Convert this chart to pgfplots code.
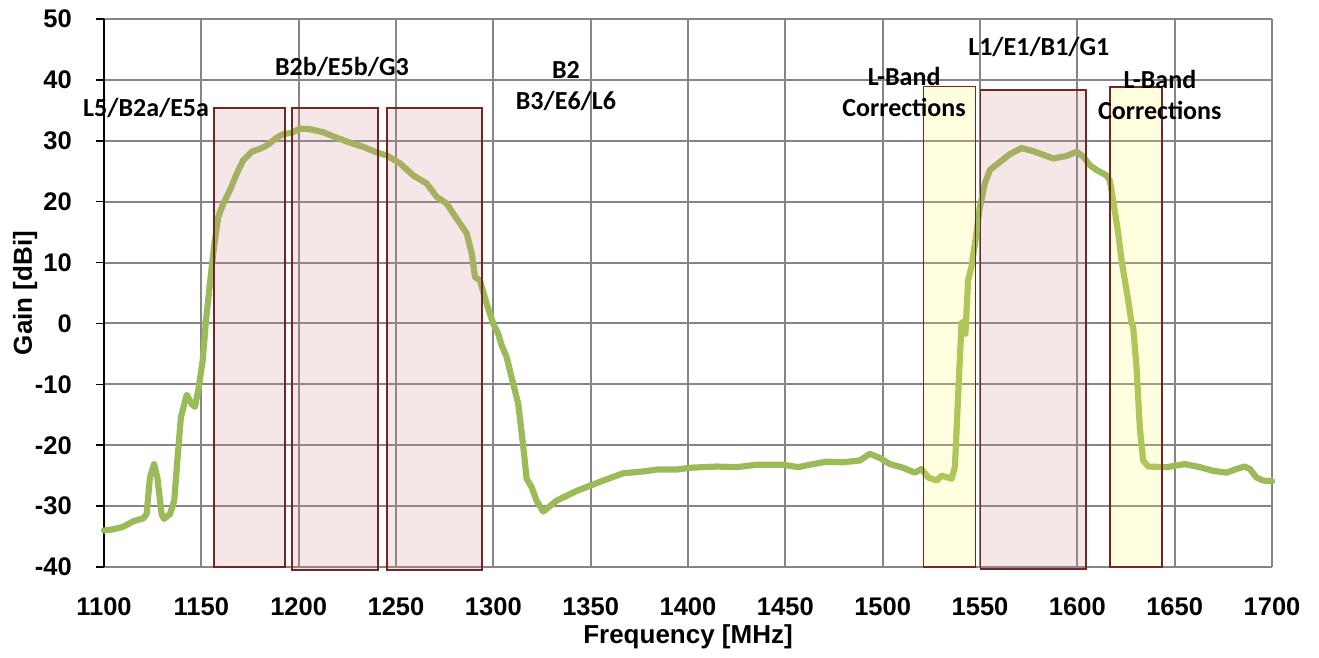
\documentclass[border=0pt]{standalone}
\usepackage{fontspec}
\setmainfont{Liberation Sans}
\newfontfamily\calibri{Carlito}
\usepackage{pgfplots}
\pgfplotsset{compat=1.18}
\definecolor{gridgray}{RGB}{134,134,134}
\definecolor{curvegreen}{RGB}{155,187,89}
\definecolor{boxred}{RGB}{115,38,38}
\definecolor{pinkfill}{RGB}{205,135,135}
\definecolor{yellowfill}{RGB}{255,250,90}
\begin{document}
\begin{tikzpicture}
\begin{axis}[
  scale only axis, width=1168pt, height=548pt,
  xmin=1100, xmax=1700, ymin=-40, ymax=50,
  xtick={1100,1150,...,1700}, ytick={-40,-30,...,50},
  grid=major, grid style={color=gridgray, line width=2pt},
  axis x line*=bottom, axis y line*=left,
  x axis line style={draw=gridgray, line width=2pt},
  y axis line style={draw=black, line width=1.5pt},
  tick align=outside, major tick length=8pt,
  xtick style={draw=none},
  ytick style={draw=black, line width=1.5pt},
  /pgf/number format/assume math mode=true,
  /pgf/number format/set thousands separator={},
  ticklabel style={font=\bfseries\fontsize{25.5}{28}\selectfont},
  xticklabel style={anchor=center, yshift=-32pt},
  yticklabel style={anchor=east, inner sep=0pt, xshift=-24pt},
  xlabel={Frequency [MHz]}, ylabel={Gain [dBi]},
  label style={font=\bfseries\fontsize{26}{30}\selectfont},
  xlabel style={at={(axis description cs:0.5,-0.1277)}, anchor=center},
  ylabel style={at={(axis description cs:-0.0676,0.5)}, anchor=center},
  clip=false,
]
\addplot[color=curvegreen, line width=6.2pt, line join=round, line cap=round] coordinates {
(1100,-34.0) (1104.8,-33.8) (1109.9,-33.4) (1115,-32.5) (1120.2,-32.0) (1121.9,-31.3)
(1123.6,-25.3) (1125.7,-23.1) (1127.4,-25.3) (1129.6,-31.3) (1130.8,-32.1) (1133.9,-31.3)
(1136.1,-29.1) (1137.8,-22.0) (1139.5,-15.4) (1142.5,-11.7) (1145,-13.2) (1146.7,-13.7)
(1148.4,-11.0) (1150.7,-6.1) (1152.3,0.2) (1154.4,6.5) (1156.7,13.1) (1158.7,17.5)
(1161.3,19.7) (1164.7,21.9) (1168.2,24.6) (1171.5,26.8) (1175.9,28.2) (1181,28.8)
(1184.4,29.4) (1188.7,30.5) (1192.1,31.1) (1196.4,31.3) (1200.7,32.0) (1205.8,31.9)
(1212.6,31.4) (1219.5,30.5) (1226.3,29.7) (1233.2,29.0) (1240,28.1) (1245.2,27.6)
(1252,26.3) (1258.9,24.3) (1265.7,23.0) (1270.9,20.8) (1276,19.7) (1281.2,17.2)
(1286.3,14.8) (1288.9,11.5) (1290.6,7.6) (1293.1,7.1) (1296.6,3.2) (1299.9,0)
(1302.5,-1.7) (1304.3,-3.6) (1306.8,-5.5) (1310.2,-9.9) (1312.8,-13.2) (1315.4,-20.3)
(1317.1,-25.5) (1319.7,-26.9) (1322.2,-29.1) (1325.6,-30.9) (1332.5,-29.1) (1342.8,-27.5)
(1356.5,-25.8) (1366.7,-24.6) (1377,-24.3) (1383.9,-24.0) (1394.1,-24.0) (1401,-23.7)
(1414.7,-23.5) (1425,-23.6) (1435.2,-23.2) (1448.9,-23.2) (1456.6,-23.6) (1462.6,-23.2)
(1471.2,-22.7) (1479.7,-22.8) (1488.3,-22.5) (1493.4,-21.4) (1498.6,-22.1) (1503.7,-23.1)
(1510.5,-23.7) (1516.5,-24.5) (1520,-23.9) (1523.4,-25.3) (1527.7,-25.8) (1530.2,-25.0)
(1535.4,-25.5) (1537.1,-23.6) (1538.8,-11.6) (1540.5,0) (1541.5,0.3) (1542.5,-1.7)
(1543.9,7.1) (1545.6,9.3) (1547.4,13.1) (1549.9,19.1) (1552.5,23.0) (1555.1,25.2)
(1560.2,26.5) (1565.3,27.8) (1571.3,28.8) (1577.3,28.3) (1587.6,27.1) (1594.4,27.5)
(1599.6,28.2) (1603,27.4) (1606.4,26.0) (1609.9,25.2) (1615,24.3) (1616.7,23.5)
(1618.4,20.2) (1621,14.8) (1622.7,10.4) (1626.1,3.8) (1627.9,0) (1628.7,-0.6)
(1630.4,-7.2) (1632.1,-17.1) (1633.8,-22.5) (1636.4,-23.5) (1645.8,-23.6) (1655.2,-23.1)
(1662.9,-23.6) (1669.7,-24.2) (1676.6,-24.5) (1681.8,-23.9) (1686,-23.5) (1688.6,-23.9)
(1692,-25.3) (1695.4,-25.8) (1700,-25.9)
};
% band boxes
\addplot[draw=boxred, line width=1.5pt, fill=pinkfill, fill opacity=0.2] coordinates {(1156.5,-40) (1193,-40) (1193,35.4) (1156.5,35.4)} -- cycle;
\addplot[draw=boxred, line width=1.5pt, fill=pinkfill, fill opacity=0.2] coordinates {(1196.6,-40.5) (1240.7,-40.5) (1240.7,35.4) (1196.6,35.4)} -- cycle;
\addplot[draw=boxred, line width=1.5pt, fill=pinkfill, fill opacity=0.2] coordinates {(1245.4,-40.5) (1294.1,-40.5) (1294.1,35.4) (1245.4,35.4)} -- cycle;
\addplot[draw=boxred, line width=1.5pt, fill=yellowfill, fill opacity=0.2] coordinates {(1521,-40) (1547.7,-40) (1547.7,38.9) (1521,38.9)} -- cycle;
\addplot[draw=boxred, line width=1.5pt, fill=pinkfill, fill opacity=0.2] coordinates {(1550.3,-40.3) (1604.5,-40.3) (1604.5,38.3) (1550.3,38.3)} -- cycle;
\addplot[draw=boxred, line width=1.5pt, fill=yellowfill, fill opacity=0.2] coordinates {(1616.8,-40) (1643.4,-40) (1643.4,38.8) (1616.8,38.8)} -- cycle;
% labels
\begin{scope}[every node/.style={font=\calibri\bfseries\fontsize{26}{30.5}\selectfont, align=center, inner sep=0pt}]
\node at (axis cs:1121.6,35.4) {L5/B2a/E5a};
\node at (axis cs:1222.2,42.1) {B2b/E5b/G3};
\node at (axis cs:1337.3,39.0) {B2\\B3/E6/L6};
\node at (axis cs:1511,38.0) {L-Band\\Corrections};
\node at (axis cs:1580.2,45.4) {L1/E1/B1/G1};
\node at (axis cs:1642.4,37.5) {L-Band\\Corrections};
\end{scope}
\end{axis}
\path ([xshift=-104pt,yshift=-90pt]current axis.south west) rectangle ([xshift=47pt,yshift=19pt]current axis.north east);
\end{tikzpicture}
\end{document}
